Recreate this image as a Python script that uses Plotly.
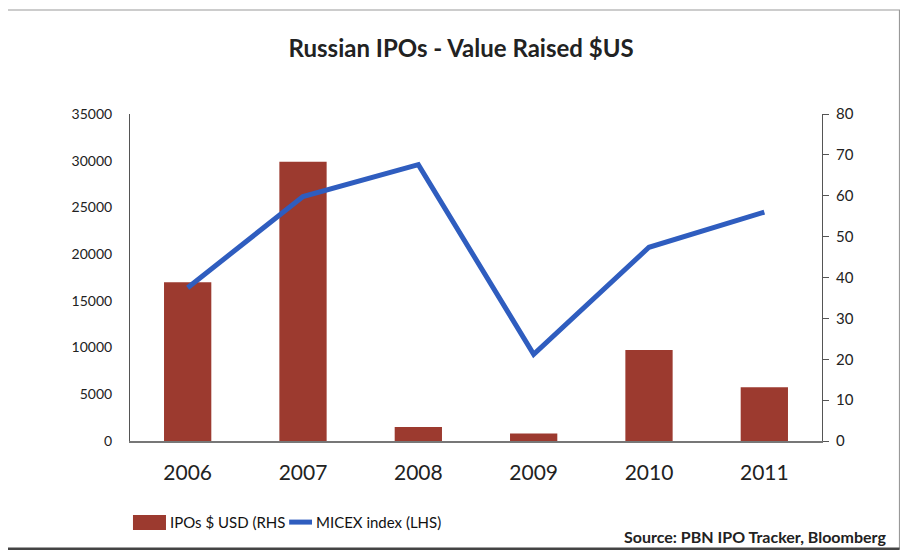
import plotly.graph_objects as go

years = ["2006", "2007", "2008", "2009", "2010", "2011"]
ipo_values = [17000, 29900, 1500, 800, 9750, 5750]
micex_values = [37.5, 59.8, 67.6, 21.2, 47.4, 56.0]
left_ticks = [0, 5000, 10000, 15000, 20000, 25000, 30000, 35000]
right_ticks = [0, 10, 20, 30, 40, 50, 60, 70, 80]

FONT = "Lato"
RED = "#9c3a2f"
BLUE = "#2f5dbf"

fig = go.Figure()
fig.add_trace(go.Bar(
    x=years, y=ipo_values, name="IPOs $ USD (RHS",
    marker=dict(color=RED, line=dict(width=0)),
    width=0.41, yaxis="y",
))
fig.add_trace(go.Scatter(
    x=years, y=micex_values, name="MICEX index (LHS)",
    mode="lines", line=dict(color=BLUE, width=5),
    yaxis="y2",
))

fig.update_layout(
    width=892, height=542,
    paper_bgcolor="white", plot_bgcolor="white",
    margin=dict(l=122, r=78, t=106, b=109),
    font=dict(family=FONT, color="#222"),
    title=dict(text="<b>Russian IPOs - Value Raised $US</b>", x=0.508, xanchor="center",
               xref="container", yref="container",
               y=0.926, yanchor="middle", font=dict(size=24, family=FONT, color="#222")),
    xaxis=dict(type="category", showline=True, linecolor="#777", linewidth=1.5,
               ticks="", tickfont=dict(size=21, family=FONT, color="#222"),
               showgrid=False, zeroline=False, ticklabelstandoff=12),
    yaxis=dict(range=[0, 35000], tickvals=left_ticks, ticktext=[str(v) for v in left_ticks],
               showline=True, linecolor="#555",
               linewidth=1, ticks="", showgrid=False, zeroline=False,
               tickfont=dict(size=14, family=FONT, color="#222"), ticklabelstandoff=14),
    yaxis2=dict(range=[0, 80], tickvals=right_ticks, overlaying="y", side="right",
                showline=True, linecolor="#555", linewidth=1, ticks="outside",
                ticklen=6, tickcolor="#555", showgrid=False, zeroline=False,
                tickfont=dict(size=15, family=FONT, color="#222"), ticklabelstandoff=4),
    showlegend=False,
    bargap=0.59,
)

# custom legend
fig.add_shape(type="rect", xref="paper", yref="paper", x0=0.0043, x1=0.052, y0=-0.272, y1=-0.226,
              line=dict(width=0), fillcolor=RED)
fig.add_annotation(text="IPOs $ USD (RHS", xref="paper", yref="paper", x=0.055, xanchor="left",
                   y=-0.248, yanchor="middle", showarrow=False,
                   font=dict(size=15, family=FONT, color="#111"))
fig.add_shape(type="line", xref="paper", yref="paper", x0=0.23, x1=0.263, y0=-0.248, y1=-0.248,
              line=dict(color=BLUE, width=5))
fig.add_annotation(text="MICEX index (LHS)", xref="paper", yref="paper", x=0.266, xanchor="left",
                   y=-0.248, yanchor="middle", showarrow=False,
                   font=dict(size=15, family=FONT, color="#111"))

fig.add_annotation(text="<b>Source: PBN IPO Tracker, Bloomberg</b>", xref="paper", yref="paper",
                   x=1.095, xanchor="right", y=-0.291, yanchor="middle", showarrow=False,
                   font=dict(size=16, family=FONT, color="#222"))

# frame
fig.add_shape(type="rect", xref="paper", yref="paper", x0=-0.181, x1=1.112, y0=-0.330, y1=1.318,
              line=dict(color="#999", width=1.2), fillcolor="rgba(0,0,0,0)")
fig.add_shape(type="line", xref="paper", yref="paper", x0=-0.181, x1=1.112, y0=-0.330, y1=-0.330,
              line=dict(color="#444", width=3))

fig.write_html("out.html")
